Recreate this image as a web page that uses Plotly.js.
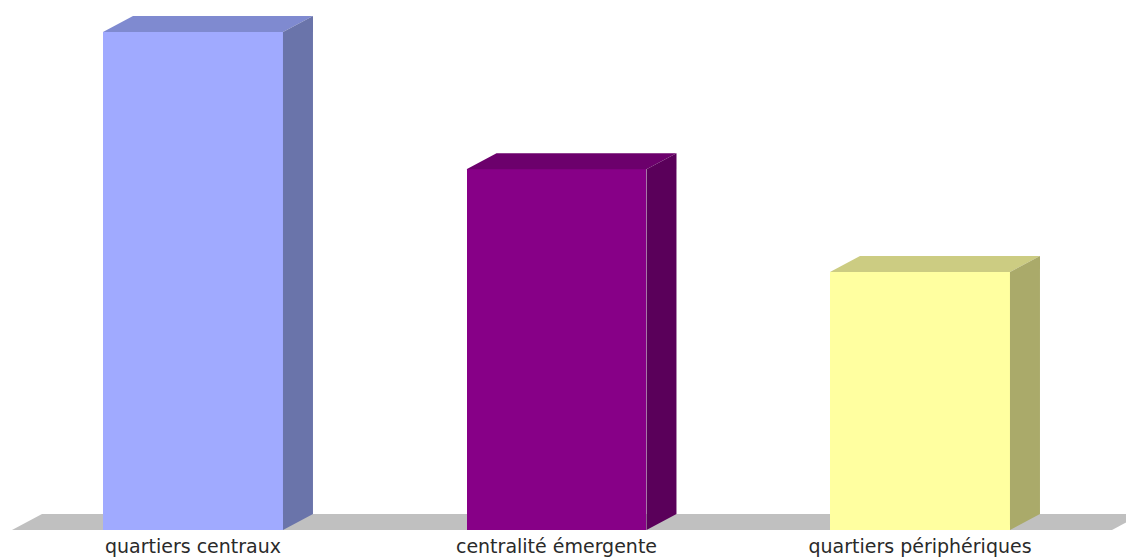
<!DOCTYPE html>
<html>
<head>
<meta charset="utf-8">
<script src="https://cdn.plot.ly/plotly-3.0.1.min.js"></script>
<style>
  html, body { margin: 0; padding: 0; background: #ffffff; }
  #chart { width: 1126px; height: 558px; }
</style>
</head>
<body>
<div id="chart"></div>
<script>
// Répartition par type de quartier (%)
const categories = ['quartiers centraux', 'centralité émergente', 'quartiers périphériques'];
const values = [44.6, 32.3, 23.1];

// Face colours: front, top, side for each bar
const frontColors = ['#A0AAFF', '#870087', '#FFFFA0'];
const topColors   = ['#7F8AD0', '#6C006C', '#CCCC82'];
const sideColors  = ['#6A74AA', '#5A005A', '#AAAA6A'];
const floorColor  = '#C0C0C0';

// Canvas geometry (pixels)
const W = 1126, H = 558;
const marginB = 25;
const plotH = H - marginB;
const baselinePx = 530;          // pixel row of value 0
const firstCenterPx = 193;       // pixel column of the first bar centre
const slotPx = 363.5;            // pixels per category
const pxPerUnit = 11.166;        // pixels per value unit
const depthXPx = 30, depthYPx = 16;

// Axis ranges derived from the geometry above
const xRange = [-firstCenterPx / slotPx, (W - firstCenterPx) / slotPx];
const yRange = [-(plotH - baselinePx) / pxPerUnit, baselinePx / pxPerUnit];
const dx = depthXPx / slotPx;
const dy = depthYPx / pxPerUnit;
const barWidth = 0.495;
const xs = categories.map((_, i) => i);

const traces = [];

// Front faces
traces.push({
  type: 'bar',
  x: xs,
  y: values,
  width: barWidth,
  marker: { color: frontColors, line: { width: 0 } },
  hoverinfo: 'skip',
  showlegend: false
});

// Top and side faces, drawn as filled polygons in data space
values.forEach((v, i) => {
  const x0 = xs[i] - barWidth / 2, x1 = xs[i] + barWidth / 2;
  traces.push({
    type: 'scatter', mode: 'lines',
    x: [x0, x1, x1 + dx, x0 + dx, x0],
    y: [v, v, v + dy, v + dy, v],
    fill: 'toself', fillcolor: topColors[i],
    line: { width: 0, color: topColors[i] },
    hoverinfo: 'skip', showlegend: false
  });
  traces.push({
    type: 'scatter', mode: 'lines',
    x: [x1, x1 + dx, x1 + dx, x1, x1],
    y: [0, dy, v + dy, v, 0],
    fill: 'toself', fillcolor: sideColors[i],
    line: { width: 0, color: sideColors[i] },
    hoverinfo: 'skip', showlegend: false
  });
});

// Floor slab under the bars
const floorLeft = xRange[0] + 12 / slotPx;
const floorRight = xRange[0] + 1112 / slotPx;
const floorPath = 'M ' + floorLeft + ',0 L ' + floorRight + ',0 L ' +
  (floorRight + dx) + ',' + dy + ' L ' + (floorLeft + dx) + ',' + dy + ' Z';

const layout = {
  width: W, height: H,
  margin: { l: 0, r: 0, t: 0, b: marginB, pad: 0 },
  paper_bgcolor: '#ffffff',
  plot_bgcolor: '#ffffff',
  showlegend: false,
  bargap: 0,
  xaxis: {
    range: xRange,
    tickmode: 'array',
    tickvals: xs,
    ticktext: categories,
    showgrid: false, zeroline: false, showline: false,
    ticks: '', ticklen: 0,
    tickfont: { family: 'DejaVu Sans, Verdana, sans-serif', size: 19, color: '#2a2a2a' },
    fixedrange: true
  },
  yaxis: {
    range: yRange,
    visible: false,
    showgrid: false, zeroline: false,
    fixedrange: true
  },
  shapes: [{
    type: 'path',
    xref: 'x', yref: 'y',
    path: floorPath,
    fillcolor: floorColor,
    line: { width: 0 },
    layer: 'below'
  }]
};

Plotly.newPlot('chart', traces, layout, { displayModeBar: false, staticPlot: true });
</script>
</body>
</html>
